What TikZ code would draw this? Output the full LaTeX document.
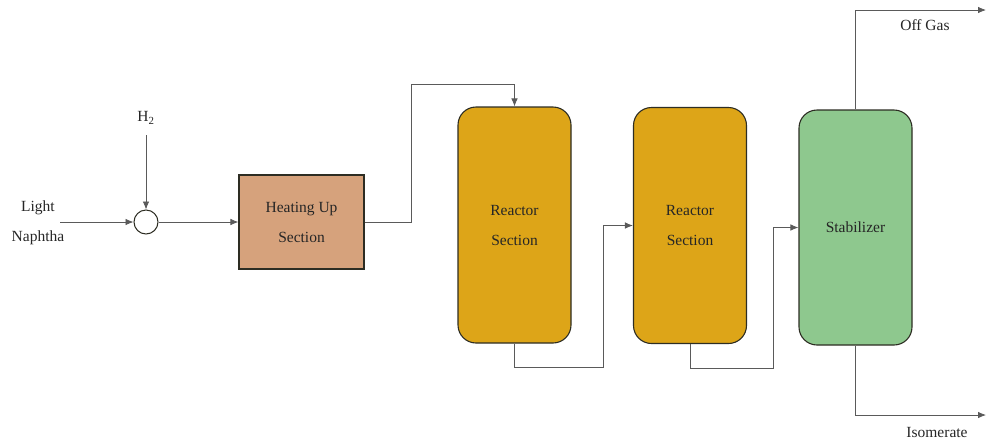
\documentclass[tikz,border=0pt]{standalone}
\usepackage{fontspec}
\setmainfont{Liberation Serif}
\usetikzlibrary{arrows.meta}
\definecolor{heatc}{RGB}{214,162,124}
\definecolor{reacc}{RGB}{221,165,24}
\definecolor{stabc}{RGB}{142,200,142}
\definecolor{linec}{RGB}{90,90,90}
\definecolor{borderc}{RGB}{45,45,35}
\begin{document}
\begin{tikzpicture}[x=1pt,y=-1pt,
  every node/.style={font=\fontsize{15.5}{30}\selectfont, text=black!85},
  flow/.style={draw=linec, line width=0.8pt, -{Latex[length=8pt,width=6.5pt]}},
  unitbox/.style={draw=borderc, line width=1.1pt, minimum width=113pt, minimum height=236pt, rounded corners=18pt, align=center, inner sep=0pt},
  lab/.style={align=center, inner sep=0pt}]
\useasboundingbox (0,0) rectangle (988,440);
\node[lab] (ln) at (38,223) {Light\\Naphtha};
\node[lab] (h2) at (146,118) {H\textsubscript{2}};
\node[draw=borderc, line width=1pt, circle, minimum size=24pt, inner sep=0pt, fill=white] (mix) at (146,222) {};
\node[draw=borderc, line width=1.1pt, fill=heatc, minimum width=125pt, minimum height=94pt, align=center, inner sep=0pt] (heat) at (301.5,222) {Heating Up\\Section};
\node[unitbox, fill=reacc] (r1) at (514.5,225) {Reactor\\Section};
\node[unitbox, fill=reacc] (r2) at (690,225.5) {Reactor\\Section};
\node[unitbox, fill=stabc, minimum height=235pt] (st) at (855.5,227.5) {Stabilizer};
\node[lab] (og) at (925,25) {Off Gas};
\node[lab] (iso) at (937,432) {Isomerate};
\coordinate (lnstart) at (60,222);
\coordinate (h2top) at (146,135);
\coordinate (c1) at (411,84);
\coordinate (c2) at (603,367);
\coordinate (c3) at (773,368);
\coordinate (ogend) at (986,10);
\coordinate (isoend) at (986,415);
\draw[flow] (lnstart) -- (mix.west);
\draw[flow] (h2top) -- (mix.north);
\draw[flow] (mix.east) -- (heat.west);
\draw[flow] (heat.east) -| (c1) -| (r1.north);
\draw[flow] (r1.south) |- (c2) |- (r2.west);
\draw[flow] (r2.south) |- (c3) |- (st.west);
\draw[flow] (st.north) |- (ogend);
\draw[flow] (st.south) |- (isoend);
\end{tikzpicture}
\end{document}
